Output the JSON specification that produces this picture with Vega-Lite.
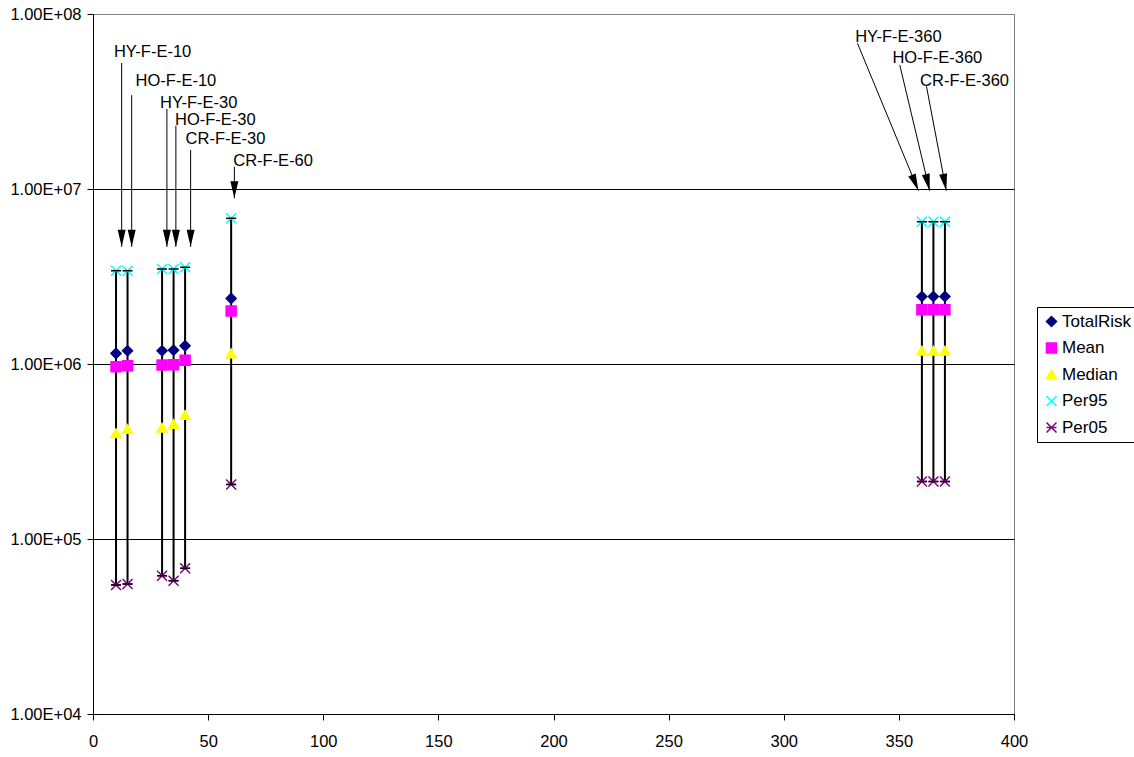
{
  "$schema": "https://vega.github.io/schema/vega-lite/v6.json",
  "width": 921,
  "height": 700,
  "autosize": {"type": "none"},
  "padding": {"left": 93, "top": 14, "right": 120, "bottom": 43},
  "background": "white",
  "config": {
    "font": "Liberation Sans",
    "view": {"stroke": "#808080", "strokeWidth": 1},
    "axis": {
      "labelFont": "Liberation Sans",
      "labelFontSize": 16.5,
      "labelColor": "black",
      "domainColor": "black",
      "domainWidth": 1,
      "tickColor": "black",
      "tickSize": 6,
      "title": null,
      "grid": false
    },
    "legend": {
      "orient": "none",
      "title": null,
      "strokeColor": "black",
      "fillColor": "white",
      "padding": 6,
      "labelFont": "Liberation Sans",
      "labelFontSize": 17,
      "labelColor": "black",
      "rowPadding": 8.5,
      "labelOffset": 2,
      "symbolSize": 100,
      "symbolStrokeWidth": 1.5
    }
  },
  "datasets": {
    "risk": [
      {"x": 10, "series": "TotalRisk", "value": 1150000},
      {"x": 10, "series": "Mean", "value": 966000},
      {"x": 10, "series": "Median", "value": 402000},
      {"x": 10, "series": "Per95", "value": 3410000},
      {"x": 10, "series": "Per05", "value": 54600},
      {"x": 15, "series": "TotalRisk", "value": 1190000},
      {"x": 15, "series": "Mean", "value": 977000},
      {"x": 15, "series": "Median", "value": 425000},
      {"x": 15, "series": "Per95", "value": 3410000},
      {"x": 15, "series": "Per05", "value": 55300},
      {"x": 30, "series": "TotalRisk", "value": 1190000},
      {"x": 30, "series": "Mean", "value": 987000},
      {"x": 30, "series": "Median", "value": 432000},
      {"x": 30, "series": "Per95", "value": 3490000},
      {"x": 30, "series": "Per05", "value": 61700},
      {"x": 35, "series": "TotalRisk", "value": 1200000},
      {"x": 35, "series": "Mean", "value": 990000},
      {"x": 35, "series": "Median", "value": 454000},
      {"x": 35, "series": "Per95", "value": 3490000},
      {"x": 35, "series": "Per05", "value": 57800},
      {"x": 40, "series": "TotalRisk", "value": 1270000},
      {"x": 40, "series": "Mean", "value": 1050000},
      {"x": 40, "series": "Median", "value": 511000},
      {"x": 40, "series": "Per95", "value": 3570000},
      {"x": 40, "series": "Per05", "value": 68000},
      {"x": 60, "series": "TotalRisk", "value": 2370000},
      {"x": 60, "series": "Mean", "value": 2010000},
      {"x": 60, "series": "Median", "value": 1150000},
      {"x": 60, "series": "Per95", "value": 6800000},
      {"x": 60, "series": "Per05", "value": 205000},
      {"x": 360, "series": "TotalRisk", "value": 2430000},
      {"x": 360, "series": "Mean", "value": 2040000},
      {"x": 360, "series": "Median", "value": 1190000},
      {"x": 360, "series": "Per95", "value": 6500000},
      {"x": 360, "series": "Per05", "value": 213000},
      {"x": 365, "series": "TotalRisk", "value": 2430000},
      {"x": 365, "series": "Mean", "value": 2040000},
      {"x": 365, "series": "Median", "value": 1190000},
      {"x": 365, "series": "Per95", "value": 6500000},
      {"x": 365, "series": "Per05", "value": 213000},
      {"x": 370, "series": "TotalRisk", "value": 2430000},
      {"x": 370, "series": "Mean", "value": 2040000},
      {"x": 370, "series": "Median", "value": 1190000},
      {"x": 370, "series": "Per95", "value": 6500000},
      {"x": 370, "series": "Per05", "value": 213000}
    ],
    "notes": [
      {"label": "HY-F-E-10", "lx": 9.1, "ly": 60700000, "ax": 12.45, "ay": 52500000, "tx": 12.45, "ty": 4670000},
      {"label": "HO-F-E-10", "lx": 18.5, "ly": 41600000, "ax": 16.8, "ay": 34400000, "tx": 16.8, "ty": 4670000},
      {"label": "HY-F-E-30", "lx": 29.1, "ly": 31000000, "ax": 32.1, "ay": 28700000, "tx": 32.1, "ty": 4670000},
      {"label": "HO-F-E-30", "lx": 35.6, "ly": 24800000, "ax": 36.0, "ay": 23000000, "tx": 36.0, "ty": 4670000},
      {"label": "CR-F-E-30", "lx": 40.2, "ly": 19200000, "ax": 42.4, "ay": 16700000, "tx": 42.4, "ty": 4670000},
      {"label": "CR-F-E-60", "lx": 60.9, "ly": 14500000, "ax": 61.4, "ay": 13400000, "tx": 61.4, "ty": 8850000},
      {"label": "HY-F-E-360", "lx": 331.0, "ly": 73600000, "ax": 332.0, "ay": 68100000, "tx": 358.5, "ty": 9770000},
      {"label": "HO-F-E-360", "lx": 347.2, "ly": 55800000, "ax": 350.4, "ay": 51100000, "tx": 363.4, "ty": 9770000},
      {"label": "CR-F-E-360", "lx": 359.2, "ly": 41600000, "ax": 362.0, "ay": 38500000, "tx": 370.6, "ty": 9770000}
    ]
  },
  "layer": [
    {
      "data": {"name": "risk"},
      "transform": [
        {"pivot": "series", "value": "value", "groupby": ["x"]}
      ],
      "mark": {"type": "rule", "color": "black", "strokeWidth": 2},
      "encoding": {
        "x": {
          "field": "x",
          "type": "quantitative",
          "scale": {"domain": [0, 400], "nice": false, "zero": false},
          "axis": {
            "values": [0, 50, 100, 150, 200, 250, 300, 350, 400],
            "labelPadding": 13,
            "labelFlush": false,
            "labelOverlap": false
          }
        },
        "y": {
          "field": "Per05",
          "type": "quantitative",
          "scale": {"type": "log", "domain": [10000, 100000000], "nice": false},
          "axis": {
            "values": [10000, 100000, 1000000, 10000000, 100000000],
            "labelExpr": "'1.00E+0' + round(log(datum.value) / LN10)",
            "labelPadding": 6,
            "labelFlush": false,
            "labelOverlap": false,
            "grid": true,
            "gridColor": {"condition": {"test": "datum.value >= 100000000", "value": "#808080"}, "value": "black"},
            "gridOpacity": 1,
            "gridWidth": 1
          }
        },
        "y2": {"field": "Per95"}
      }
    },
    {
      "data": {"name": "risk"},
      "mark": {"type": "point", "filled": true, "opacity": 1, "size": 100, "strokeWidth": 1.5},
      "encoding": {
        "x": {"field": "x", "type": "quantitative"},
        "y": {"field": "value", "type": "quantitative"},
        "fill": {
          "field": "series",
          "type": "nominal",
          "sort": null,
          "scale": {
            "domain": ["TotalRisk", "Mean", "Median", "Per95", "Per05"],
            "range": ["#000080", "#FF00FF", "#FFFF00", "#00FFFF", "#800080"]
          },
          "legend": {"legendX": 944, "legendY": 293}
        },
        "stroke": {
          "field": "series",
          "type": "nominal",
          "sort": null,
          "scale": {
            "domain": ["TotalRisk", "Mean", "Median", "Per95", "Per05"],
            "range": ["#000080", "#FF00FF", "#FFFF00", "#00FFFF", "#800080"]
          },
          "legend": {"legendX": 944, "legendY": 293}
        },
        "shape": {
          "field": "series",
          "type": "nominal",
          "sort": null,
          "scale": {
            "domain": ["TotalRisk", "Mean", "Median", "Per95", "Per05"],
            "range": ["diamond", "square", "triangle-up", "M-1,-1L1,1M-1,1L1,-1", "M-1,-1L1,1M-1,1L1,-1M-1,0L1,0"]
          },
          "legend": {"legendX": 944, "legendY": 293}
        }
      }
    },
    {
      "data": {"name": "risk"},
      "transform": [
        {"filter": {"field": "series", "oneOf": ["Per95", "Per05"]}}
      ],
      "mark": {"type": "point", "shape": "M-1,0L1,0", "size": 100, "stroke": "black", "strokeWidth": 1.5, "filled": false, "opacity": 1},
      "encoding": {
        "x": {"field": "x", "type": "quantitative"},
        "y": {"field": "value", "type": "quantitative"}
      }
    },
    {
      "data": {"name": "notes"},
      "mark": {"type": "rule", "color": "black", "strokeWidth": 1},
      "encoding": {
        "x": {"field": "ax", "type": "quantitative"},
        "y": {"field": "ay", "type": "quantitative"},
        "x2": {"field": "tx"},
        "y2": {"field": "ty"}
      }
    },
    {
      "data": {"name": "notes"},
      "transform": [
        {"calculate": "-atan2((datum.tx - datum.ax) * 921 / 400, (log(datum.ay) - log(datum.ty)) / LN10 * 700 / 4) * 180 / PI", "as": "tilt"}
      ],
      "mark": {"type": "point", "shape": "M0,0L-0.4,-1.7L0.4,-1.7Z", "size": 400, "filled": true, "color": "black", "opacity": 1, "strokeWidth": 0},
      "encoding": {
        "x": {"field": "tx", "type": "quantitative"},
        "y": {"field": "ty", "type": "quantitative"},
        "angle": {"field": "tilt", "type": "quantitative", "scale": null}
      }
    },
    {
      "data": {"name": "notes"},
      "mark": {"type": "text", "align": "left", "baseline": "middle", "font": "Liberation Sans", "fontSize": 16.5, "color": "black"},
      "encoding": {
        "x": {"field": "lx", "type": "quantitative"},
        "y": {"field": "ly", "type": "quantitative"},
        "text": {"field": "label"}
      }
    }
  ]
}
